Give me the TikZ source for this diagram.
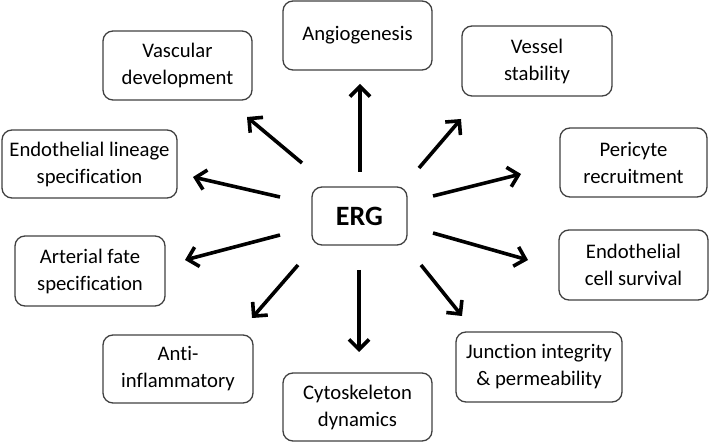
\documentclass[tikz,border=0pt]{standalone}
\usepackage{fontspec}
\setmainfont{Carlito}[Ligatures={NoCommon,NoContextual}]
\usetikzlibrary{arrows.meta}
\begin{document}
\begin{tikzpicture}[x=1pt,y=-1pt,
  box/.style={draw=black!75,line width=1.3pt,rounded corners=10pt,align=center,
    font=\fontsize{20.7}{27}\selectfont,inner sep=0pt},
  arr/.style={line width=3.6pt,-{Straight Barb[length=10pt,width=20pt,line width=3.6pt]}}]
\useasboundingbox (0,0) rectangle (710,443);
\node[box,minimum width=149pt,minimum height=69pt] (ang) at (357.5,35.5) {Angiogenesis};
\node[box,minimum width=149pt,minimum height=69pt] (vasc) at (177.5,65.5) {Vascular\\development};
\node[box,minimum width=150pt,minimum height=70pt] (vess) at (537,61) {Vessel\\stability};
\node[box,minimum width=175pt,minimum height=68pt] (lin) at (89.5,164) {Endothelial lineage\\specification};
\node[box,minimum width=147pt,minimum height=69pt] (peri) at (633.5,162.5) {Pericyte\\recruitment};
\node[box,minimum width=95pt,minimum height=58pt,font=\fontsize{28}{30}\selectfont\bfseries] (erg) at (359.5,216) {ERG};
\node[box,minimum width=150pt,minimum height=70pt] (art) at (90,271) {Arterial fate\\specification};
\node[box,minimum width=149pt,minimum height=70pt] (surv) at (633.5,265) {Endothelial\\cell survival};
\node[box,minimum width=150pt,minimum height=68pt] (anti) at (178,369) {Anti-\\inflammatory};
\node[box,minimum width=149pt,minimum height=68pt] (cyto) at (357.5,407) {Cytoskeleton\\dynamics};
\node[box,minimum width=166pt,minimum height=70pt] (junc) at (539,367) {Junction integrity\\\&\ permeability};
% arrow end points
\coordinate (sAng) at (360,172); \coordinate (tAng) at (360,84);
\coordinate (sVasc) at (302,163); \coordinate (tVasc) at (247,117);
\coordinate (sVess) at (419,168); \coordinate (tVess) at (461,119);
\coordinate (sLin) at (280,197); \coordinate (tLin) at (193,177);
\coordinate (sPeri) at (433,196); \coordinate (tPeri) at (521,174);
\coordinate (sArt) at (280,235); \coordinate (tArt) at (185,260);
\coordinate (sSurv) at (433,233); \coordinate (tSurv) at (528,260);
\coordinate (sAnti) at (298,265); \coordinate (tAnti) at (252,318);
\coordinate (sCyto) at (359,270); \coordinate (tCyto) at (359,352);
\coordinate (sJunc) at (421,265); \coordinate (tJunc) at (462,316);
\foreach \n in {Ang,Vasc,Vess,Lin,Peri,Art,Surv,Anti,Cyto,Junc}
  \draw[arr] (s\n) -- (t\n);
\end{tikzpicture}
\end{document}
